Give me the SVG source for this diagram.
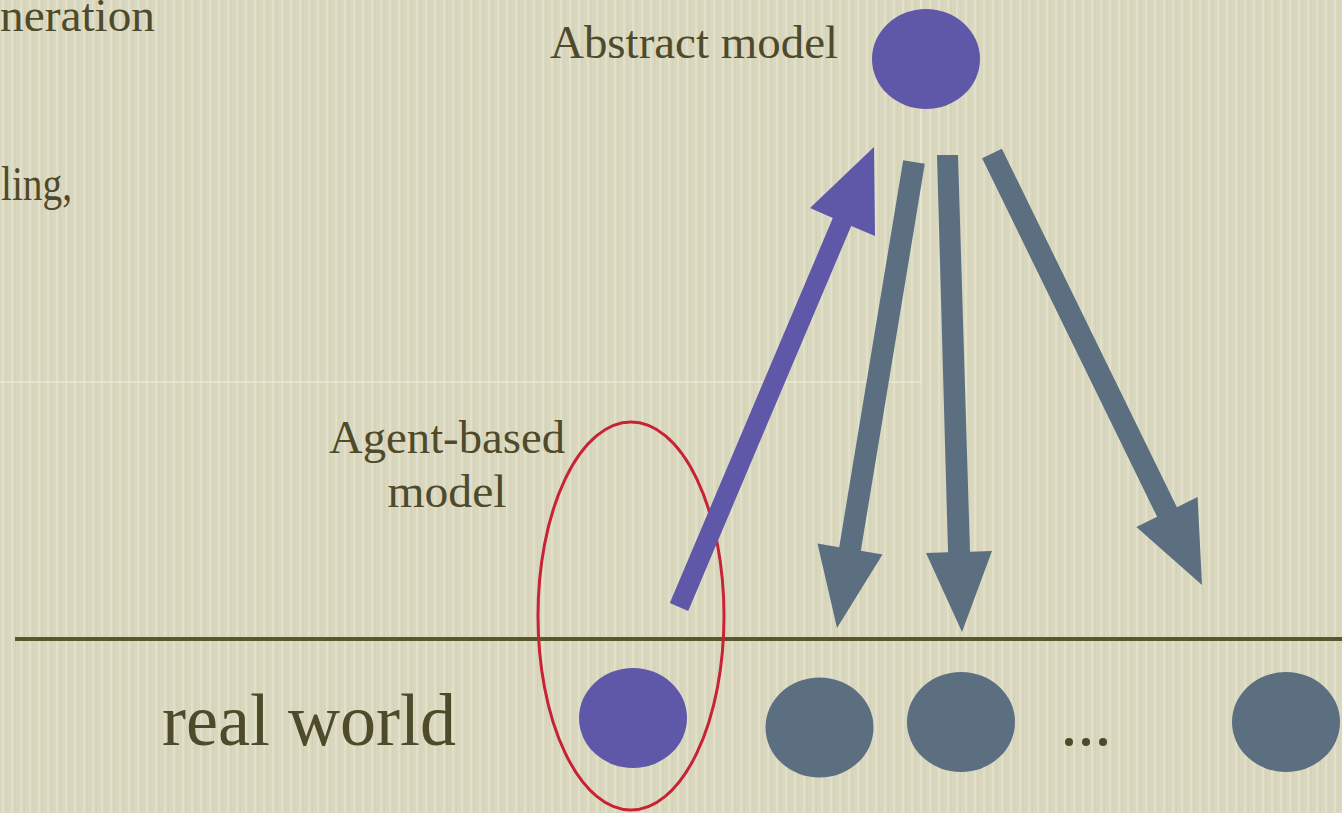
<svg xmlns="http://www.w3.org/2000/svg" width="1342" height="813" viewBox="0 0 1342 813">
<defs>
<pattern id="paper" width="9" height="60" patternUnits="userSpaceOnUse">
<rect width="9" height="60" fill="#d9d8be"/>
<rect x="2" y="0" width="2" height="60" fill="#e6e5d0" opacity="0.7"/>
<rect x="6" y="0" width="1" height="60" fill="#cfcdb2" opacity="0.6"/>
</pattern>
<style>
.txt{font-family:"Liberation Serif","DejaVu Serif",serif;fill:#4e4a2a;}
.purple{fill:#5f58a8;}
.slate{fill:#5b6f80;}
</style>
</defs>
<rect width="1342" height="813" fill="url(#paper)"/>
<g id="frame" fill="none" stroke="#e9e8d6" stroke-width="1.5">
<path d="M0 382 H921 V0"/>
</g>
<g id="partial-text">
<text class="txt" x="0" y="31" font-size="46" textLength="155" lengthAdjust="spacingAndGlyphs">neration</text>
<text class="txt" x="1" y="200" font-size="48" textLength="71" lengthAdjust="spacingAndGlyphs">ling,</text>
</g>
<g id="baseline">
<line x1="15" y1="639" x2="1342" y2="639" stroke="#57562f" stroke-width="4"/>
</g>
<g id="abstract-model">
<ellipse class="purple" cx="926" cy="59" rx="54" ry="50"/>
<text class="txt" x="550" y="58" font-size="46" textLength="288" lengthAdjust="spacingAndGlyphs">Abstract model</text>
</g>
<g id="agent-based-model">
<ellipse class="purple" cx="633" cy="718" rx="54" ry="50"/>
<ellipse cx="631" cy="616" rx="93" ry="194" fill="none" stroke="#c82334" stroke-width="3"/>
<text class="txt" x="447" y="453" font-size="46" text-anchor="middle" textLength="236" lengthAdjust="spacingAndGlyphs">Agent-based</text>
<text class="txt" x="447" y="507" font-size="46" text-anchor="middle" textLength="119" lengthAdjust="spacingAndGlyphs">model</text>
</g>
<g id="real-world">
<text class="txt" x="162" y="745" font-size="74" textLength="294" lengthAdjust="spacingAndGlyphs">real world</text>
</g>
<g id="world-1"><ellipse class="slate" cx="819.5" cy="727.5" rx="54" ry="50"/></g>
<g id="world-2"><ellipse class="slate" cx="961" cy="722" rx="54" ry="50"/></g>
<g id="ellipsis"><circle cx="1069" cy="742" r="4" fill="#4e4a2a"/><circle cx="1086" cy="742" r="4" fill="#4e4a2a"/><circle cx="1103" cy="742" r="4" fill="#4e4a2a"/></g>
<g id="world-n"><ellipse class="slate" cx="1286" cy="722" rx="54" ry="50"/></g>
<g id="connectors">
<polygon class="purple" points="669.8,603.1 688.2,610.9 851.2,225.9 875,236 874,147 810,208 832.8,218.1"/>
<polygon class="slate" points="924.8,163.8 903.2,160.2 839.2,547.2 817.5,543.6 837,628 882.5,554.4 860.8,550.8"/>
<polygon class="slate" points="958,155 937,155 948,552.3 926,553 962,632 992,551 970,551.7"/>
<polygon class="slate" points="1001.9,148.7 982.1,158.3 1157.1,516.8 1136.4,526.9 1202,585 1197.6,497.1 1176.9,507.2"/>
</g>
</svg>
